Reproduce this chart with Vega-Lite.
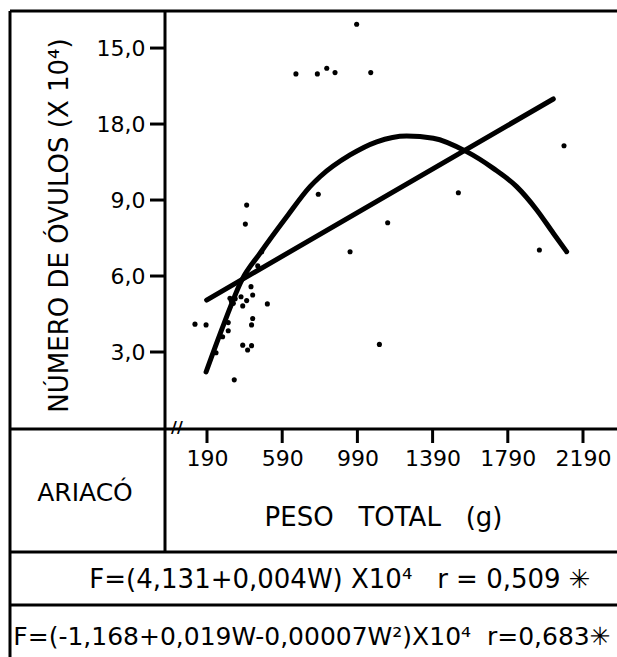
{
  "$schema": "https://vega.github.io/schema/vega-lite/v6.json",
  "autosize": {"type": "none"},
  "padding": 0,
  "width": 617,
  "height": 657,
  "background": "white",
  "config": {
    "view": {"stroke": null},
    "font": "DejaVu Sans",
    "axis": {"domain": false, "grid": false, "labelColor": "black", "titleColor": "black", "tickColor": "black", "labelFont": "DejaVu Sans", "titleFont": "DejaVu Sans", "titleFontWeight": "normal"},
    "rule": {"color": "black", "strokeWidth": 3}
  },
  "datasets": {
    "pts": [
      {"peso": 986, "ovulos": 15.94}, {"peso": 663, "ovulos": 13.98}, {"peso": 777, "ovulos": 13.98},
      {"peso": 827, "ovulos": 14.2}, {"peso": 871, "ovulos": 14.03}, {"peso": 1061, "ovulos": 14.03},
      {"peso": 2089, "ovulos": 11.14}, {"peso": 782, "ovulos": 9.23}, {"peso": 1527, "ovulos": 9.29},
      {"peso": 1151, "ovulos": 8.1}, {"peso": 951, "ovulos": 6.96}, {"peso": 1958, "ovulos": 7.03},
      {"peso": 1107, "ovulos": 3.3}, {"peso": 401, "ovulos": 8.8}, {"peso": 394, "ovulos": 8.05},
      {"peso": 481, "ovulos": 6.96}, {"peso": 460, "ovulos": 6.4}, {"peso": 424, "ovulos": 5.58},
      {"peso": 433, "ovulos": 5.25}, {"peso": 371, "ovulos": 5.18}, {"peso": 312, "ovulos": 5.12},
      {"peso": 330, "ovulos": 4.92}, {"peso": 320, "ovulos": 5.0}, {"peso": 340, "ovulos": 5.1},
      {"peso": 401, "ovulos": 5.03}, {"peso": 380, "ovulos": 4.82}, {"peso": 511, "ovulos": 4.9},
      {"peso": 126, "ovulos": 4.1}, {"peso": 185, "ovulos": 4.07}, {"peso": 303, "ovulos": 4.16},
      {"peso": 433, "ovulos": 4.32}, {"peso": 427, "ovulos": 4.07}, {"peso": 303, "ovulos": 3.84},
      {"peso": 273, "ovulos": 3.6}, {"peso": 380, "ovulos": 3.27}, {"peso": 427, "ovulos": 3.25},
      {"peso": 406, "ovulos": 3.08}, {"peso": 238, "ovulos": 2.97}, {"peso": 335, "ovulos": 1.9}
    ],
    "lin": [
      {"peso": 188, "ovulos": 5.05}, {"peso": 2032, "ovulos": 12.99}
    ],
    "quad": [
      {"peso": 185, "ovulos": 2.21}, {"peso": 280, "ovulos": 4.11}, {"peso": 375, "ovulos": 5.84},
      {"peso": 472, "ovulos": 6.9}, {"peso": 614, "ovulos": 8.34}, {"peso": 738, "ovulos": 9.53},
      {"peso": 791, "ovulos": 9.92}, {"peso": 951, "ovulos": 10.78}, {"peso": 1093, "ovulos": 11.3},
      {"peso": 1252, "ovulos": 11.53}, {"peso": 1394, "ovulos": 11.44}, {"peso": 1571, "ovulos": 10.91},
      {"peso": 1713, "ovulos": 10.25}, {"peso": 1837, "ovulos": 9.53}, {"peso": 1944, "ovulos": 8.61},
      {"peso": 2032, "ovulos": 7.69}, {"peso": 2103, "ovulos": 6.96}
    ]
  },
  "encoding": {
    "x": {"type": "quantitative", "scale": {"domain": [-911.06, 2370.85], "nice": false, "zero": false}},
    "y": {"type": "quantitative", "scale": {"domain": [-9.041, 16.897], "nice": false, "zero": false}}
  },
  "layer": [
    {
      "data": {"name": "pts"},
      "mark": {"type": "circle", "color": "black", "size": 26, "opacity": 1},
      "encoding": {
        "x": {"field": "peso", "type": "quantitative",
          "axis": {"orient": "bottom", "offset": -228, "zindex": 0, "values": [190, 590, 990, 1390, 1790, 2190], "tickSize": 14, "tickWidth": 3, "tickOpacity": 0, "labelFontSize": 22, "labelPadding": 5,
            "labelExpr": "format(datum.value, 'd')",
            "title": "PESO\u00a0\u00a0\u00a0TOTAL\u00a0\u00a0\u00a0(g)", "titleFontSize": 26, "titlePadding": 35, "titleX": 383, "titleAnchor": "middle"}},
        "y": {"field": "ovulos", "type": "quantitative",
          "axis": {"orient": "left", "offset": -165, "zindex": 0, "values": [3, 6, 9, 12, 15], "tickSize": 15, "tickWidth": 3, "tickOpacity": 0, "labelFontSize": 22, "labelPadding": 5,
            "labelExpr": "datum.value == 12 ? '18,0' : replace(format(datum.value, '.1f'), '.', ',')",
            "title": "NÚMERO DE ÓVULOS (X 10⁴)", "titleFontSize": 26, "titlePadding": 24, "titleY": 225, "titleAnchor": "middle"}}
      }
    },
    {"data": {"values": [{}]}, "mark": {"type": "tick", "orient": "vertical", "size": 14, "thickness": 3, "color": "black", "opacity": 1}, "encoding": {"x": {"datum": 190}, "y": {"datum": -0.316}}},
    {"data": {"values": [{}]}, "mark": {"type": "tick", "orient": "vertical", "size": 14, "thickness": 3, "color": "black", "opacity": 1}, "encoding": {"x": {"datum": 590}, "y": {"datum": -0.316}}},
    {"data": {"values": [{}]}, "mark": {"type": "tick", "orient": "vertical", "size": 14, "thickness": 3, "color": "black", "opacity": 1}, "encoding": {"x": {"datum": 990}, "y": {"datum": -0.316}}},
    {"data": {"values": [{}]}, "mark": {"type": "tick", "orient": "vertical", "size": 14, "thickness": 3, "color": "black", "opacity": 1}, "encoding": {"x": {"datum": 1390}, "y": {"datum": -0.316}}},
    {"data": {"values": [{}]}, "mark": {"type": "tick", "orient": "vertical", "size": 14, "thickness": 3, "color": "black", "opacity": 1}, "encoding": {"x": {"datum": 1790}, "y": {"datum": -0.316}}},
    {"data": {"values": [{}]}, "mark": {"type": "tick", "orient": "vertical", "size": 14, "thickness": 3, "color": "black", "opacity": 1}, "encoding": {"x": {"datum": 2190}, "y": {"datum": -0.316}}},
    {"data": {"values": [{}]}, "mark": {"type": "tick", "orient": "horizontal", "size": 15, "thickness": 3, "color": "black", "opacity": 1}, "encoding": {"y": {"datum": 3}, "x": {"datum": -73.3}}},
    {"data": {"values": [{}]}, "mark": {"type": "tick", "orient": "horizontal", "size": 15, "thickness": 3, "color": "black", "opacity": 1}, "encoding": {"y": {"datum": 6}, "x": {"datum": -73.3}}},
    {"data": {"values": [{}]}, "mark": {"type": "tick", "orient": "horizontal", "size": 15, "thickness": 3, "color": "black", "opacity": 1}, "encoding": {"y": {"datum": 9}, "x": {"datum": -73.3}}},
    {"data": {"values": [{}]}, "mark": {"type": "tick", "orient": "horizontal", "size": 15, "thickness": 3, "color": "black", "opacity": 1}, "encoding": {"y": {"datum": 12}, "x": {"datum": -73.3}}},
    {"data": {"values": [{}]}, "mark": {"type": "tick", "orient": "horizontal", "size": 15, "thickness": 3, "color": "black", "opacity": 1}, "encoding": {"y": {"datum": 15}, "x": {"datum": -73.3}}},
    {
      "data": {"name": "lin"},
      "mark": {"type": "line", "color": "black", "strokeWidth": 5, "strokeCap": "round"},
      "encoding": {
        "x": {"field": "peso", "type": "quantitative"},
        "y": {"field": "ovulos", "type": "quantitative"}
      }
    },
    {
      "data": {"name": "quad"},
      "mark": {"type": "line", "color": "black", "strokeWidth": 5, "strokeCap": "round", "interpolate": "monotone"},
      "encoding": {
        "x": {"field": "peso", "type": "quantitative"},
        "y": {"field": "ovulos", "type": "quantitative"}
      }
    },
    {"data": {"values": [{}]}, "mark": "rule", "encoding": {"x": {"datum": -857.9}, "x2": {"datum": 2370.85}, "y": {"datum": 16.463}}},
    {"data": {"values": [{}]}, "mark": "rule", "encoding": {"x": {"datum": -857.9}, "y": {"datum": 16.463}, "y2": {"datum": -9.041}}},
    {"data": {"values": [{}]}, "mark": "rule", "encoding": {"x": {"datum": -33.4}, "y": {"datum": 16.463}, "y2": {"datum": -4.895}}},
    {"data": {"values": [{}]}, "mark": "rule", "encoding": {"x": {"datum": -857.9}, "x2": {"datum": 2370.85}, "y": {"datum": -0.04}}},
    {"data": {"values": [{}]}, "mark": "rule", "encoding": {"x": {"datum": -857.9}, "x2": {"datum": 2370.85}, "y": {"datum": -4.895}}},
    {"data": {"values": [{}]}, "mark": "rule", "encoding": {"x": {"datum": -857.9}, "x2": {"datum": 2370.85}, "y": {"datum": -6.988}}},
    {
      "data": {"values": [{}]},
      "mark": {"type": "text", "text": "//", "fontSize": 16, "fontWeight": "bold", "color": "black"},
      "encoding": {"x": {"datum": 30}, "y": {"datum": 0}}
    },
    {
      "data": {"values": [{}]},
      "mark": {"type": "text", "text": "ARIACÓ", "fontSize": 25, "color": "black", "baseline": "middle"},
      "encoding": {"x": {"datum": -459}, "y": {"datum": -2.566}}
    },
    {
      "data": {"values": [{}]},
      "mark": {"type": "text", "text": "F=(4,131+0,004W) X10⁴\u00a0\u00a0 r = 0,509 ✳︎", "fontSize": 26, "color": "black", "baseline": "middle"},
      "encoding": {"x": {"datum": 897.4}, "y": {"datum": -6.0}}
    },
    {
      "data": {"values": [{}]},
      "mark": {"type": "text", "text": "F=(-1,168+0,019W-0,00007W²)X10⁴\u00a0 r=0,683✳︎", "fontSize": 25, "color": "black", "baseline": "middle"},
      "encoding": {"x": {"datum": 748.5}, "y": {"datum": -8.25}}
    }
  ]
}
